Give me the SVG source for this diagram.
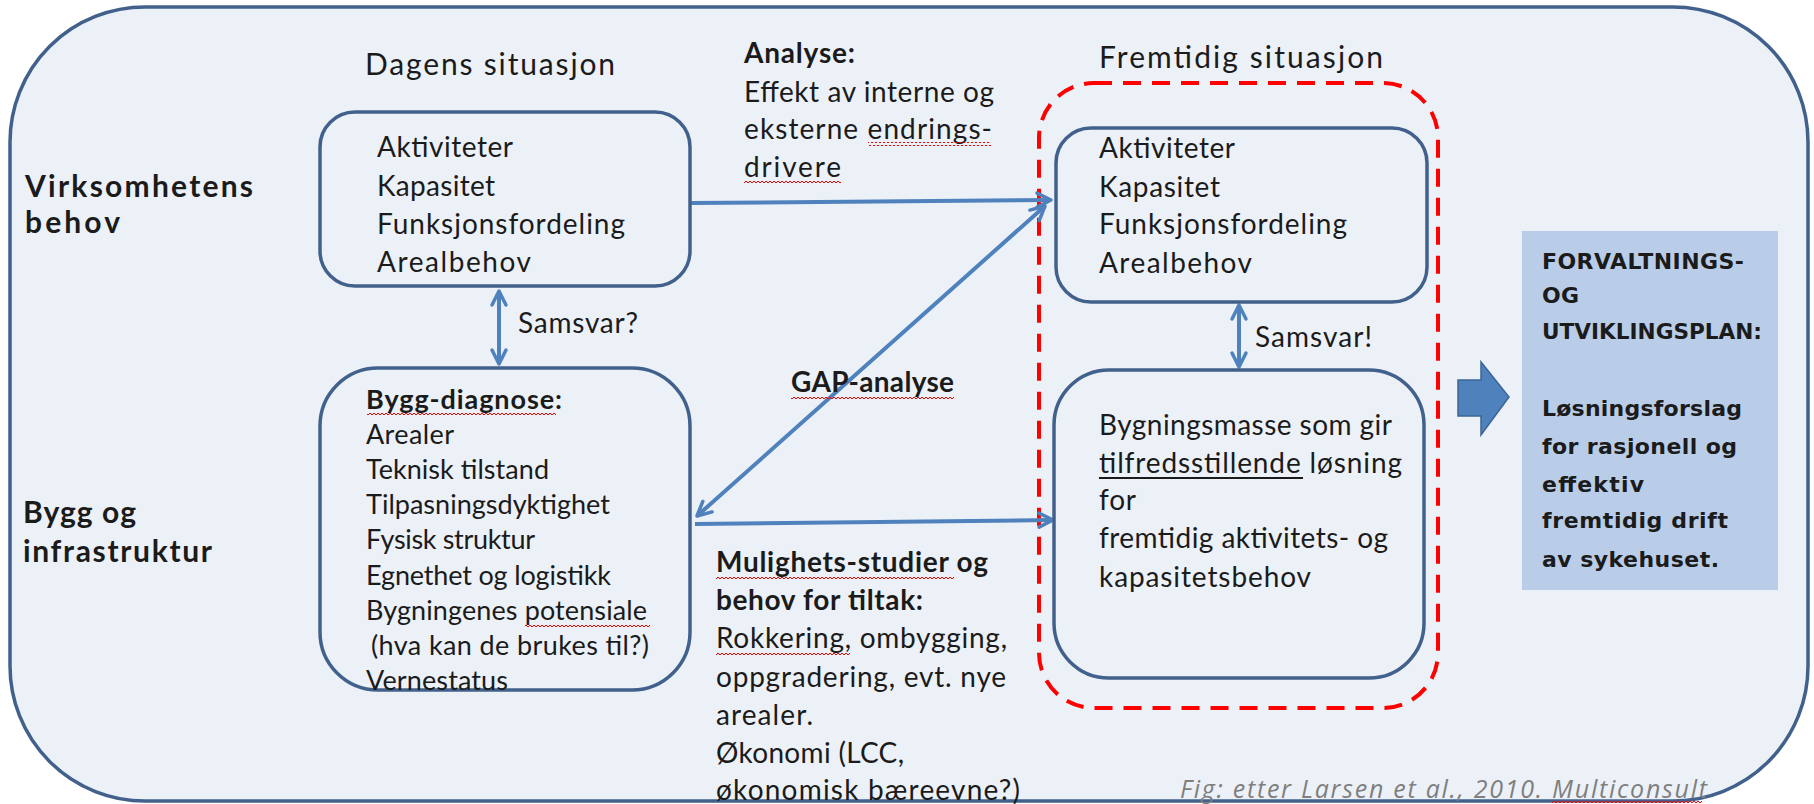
<svg xmlns="http://www.w3.org/2000/svg" width="1814" height="804" viewBox="0 0 1814 804">
  <style>
    .t { font-family: Lato, "Liberation Sans", sans-serif; font-size: 28px; fill: #1b1b1b; }
    .n { font-size: 27px; }
    .b { font-weight: bold; }
    .h { font-size: 30px; }
    .plan { font-family: "DejaVu Sans", sans-serif; font-weight: bold; font-size: 22px; fill: #1b1b1b; }
    .note { font-family: "Open Sans", sans-serif; font-style: italic; font-size: 25px; fill: #7f7f7f; }
    .box { fill: none; stroke: #41618C; stroke-width: 3.5; }
    .conn { stroke: #4F81BD; stroke-width: 4; fill: none; }
    .sq { fill: url(#squiggle); }
  </style>
  <defs>
    <marker id="open" viewBox="0 0 20 20" refX="17" refY="10" markerWidth="20" markerHeight="20" markerUnits="userSpaceOnUse" orient="auto-start-reverse">
      <path d="M3,3 L17,10 L3,17" fill="none" stroke="#4F81BD" stroke-width="3.5" stroke-linecap="round" stroke-linejoin="round"/>
    </marker>
    <pattern id="squiggle" width="4" height="4" patternUnits="userSpaceOnUse">
      <path d="M0,3 L2,1 L4,3" fill="none" stroke="#FF0000" stroke-width="1"/>
    </pattern>
  </defs>

  <!-- frame -->
  <rect id="frame" x="10" y="7" width="1798" height="794" rx="135" fill="#ECF1F8" stroke="#41618C" stroke-width="3.5"/>

  <!-- column and row headings -->
  <g id="headings">
    <text class="t h" x="365" y="75" textLength="250">Dagens situasjon</text>
    <text class="t h" x="1099" y="68" textLength="284">Fremtidig situasjon</text>
    <text class="t h b" x="25" y="197" textLength="228">Virksomhetens</text>
    <text class="t h b" x="25" y="233" textLength="95">behov</text>
    <text class="t h b" x="23" y="523" textLength="113">Bygg og</text>
    <text class="t h b" x="23" y="562" textLength="189">infrastruktur</text>
  </g>

  <!-- future-state boundary -->
  <rect id="future-zone" x="1039" y="83" width="399" height="625" rx="55" fill="none" stroke="#FF0000" stroke-width="4" stroke-dasharray="18 11"/>

  <!-- connectors -->
  <g id="connectors">
    <line class="conn" x1="691" y1="203" x2="1051" y2="200" marker-end="url(#open)"/>
    <line class="conn" x1="695" y1="524" x2="1053" y2="520" marker-end="url(#open)"/>
    <line class="conn" x1="697" y1="516" x2="1045" y2="206" marker-start="url(#open)" marker-end="url(#open)"/>
    <line class="conn" x1="499" y1="291" x2="499" y2="364" marker-start="url(#open)" marker-end="url(#open)"/>
    <line class="conn" x1="1239" y1="305" x2="1239" y2="367" marker-start="url(#open)" marker-end="url(#open)"/>
  </g>

  <g id="today-needs">
    <rect class="box" x="320" y="112" width="370" height="174" rx="35"/>
    <text class="t" x="377" y="157" textLength="136">Aktiviteter</text>
    <text class="t" x="377" y="196" textLength="118">Kapasitet</text>
    <text class="t" x="377" y="234" textLength="248">Funksjonsfordeling</text>
    <text class="t" x="377" y="272" textLength="154">Arealbehov</text>
  </g>

  <g id="today-match">
    <text class="t" x="518" y="333" textLength="120">Samsvar?</text>
  </g>

  <g id="building-diagnosis">
    <rect class="box" x="320" y="368" width="370" height="322" rx="58"/>
    <text class="t n b" x="366" y="409" textLength="196">Bygg-diagnose:</text>
    <rect class="sq" x="367" y="413" width="189" height="4"/>
    <text class="t n" x="366" y="444" textLength="88">Arealer</text>
    <text class="t n" x="366" y="479" textLength="183">Teknisk tilstand</text>
    <text class="t n" x="366" y="514" textLength="244" lengthAdjust="spacingAndGlyphs">Tilpasningsdyktighet</text>
    <text class="t n" x="366" y="549" textLength="169">Fysisk struktur</text>
    <text class="t n" x="366" y="585" textLength="245">Egnethet og logistikk</text>
    <text class="t n" x="366" y="620" textLength="281">Bygningenes potensiale</text>
    <rect class="sq" x="525" y="623" width="125" height="4"/>
    <text class="t n" x="371" y="655" textLength="278">(hva kan de brukes til?)</text>
    <text class="t n" x="366" y="690" textLength="142">Vernestatus</text>
  </g>

  <g id="analysis">
    <text class="t b" x="744" y="63" textLength="111">Analyse:</text>
    <text class="t" x="744" y="102" textLength="250">Effekt av interne og</text>
    <text class="t" x="744" y="139" textLength="248">eksterne endrings-</text>
    <rect class="sq" x="868" y="142" width="123" height="4"/>
    <text class="t" x="744" y="177" textLength="97">drivere</text>
    <rect class="sq" x="744" y="180" width="97" height="4"/>
  </g>

  <g id="gap-analysis">
    <text class="t b" x="791" y="392" textLength="163">GAP-analyse</text>
    <rect class="sq" x="791" y="396" width="163" height="4"/>
  </g>

  <g id="feasibility">
    <text class="t b" x="716" y="572" textLength="272">Mulighets-studier og</text>
    <rect class="sq" x="716" y="575" width="238" height="4"/>
    <text class="t b" x="716" y="610" textLength="207">behov for tiltak:</text>
    <text class="t" x="716" y="648" textLength="291">Rokkering, ombygging,</text>
    <rect class="sq" x="716" y="651" width="134" height="4"/>
    <text class="t" x="716" y="687" textLength="290">oppgradering, evt. nye</text>
    <text class="t" x="716" y="725" textLength="97">arealer.</text>
    <text class="t" x="716" y="763" textLength="188">Økonomi (LCC,</text>
    <text class="t" x="716" y="800" textLength="304">økonomisk bæreevne?)</text>
  </g>

  <g id="future-needs">
    <rect class="box" x="1056" y="128" width="371" height="174" rx="35"/>
    <text class="t" x="1099" y="158" textLength="136">Aktiviteter</text>
    <text class="t" x="1099" y="197" textLength="121">Kapasitet</text>
    <text class="t" x="1099" y="234" textLength="248">Funksjonsfordeling</text>
    <text class="t" x="1099" y="273" textLength="153">Arealbehov</text>
  </g>

  <g id="future-match">
    <text class="t" x="1255" y="347" textLength="117">Samsvar!</text>
  </g>

  <g id="future-buildings">
    <rect class="box" x="1054" y="370" width="370" height="308" rx="55"/>
    <text class="t" x="1099" y="435" textLength="293">Bygningsmasse som gir</text>
    <text class="t" x="1099" y="473" textLength="303">tilfredsstillende løsning</text>
    <line x1="1099" y1="478" x2="1303" y2="478" stroke="#1b1b1b" stroke-width="1.8"/>
    <text class="t" x="1099" y="510" textLength="37">for</text>
    <text class="t" x="1099" y="548" textLength="289">fremtidig aktivitets- og</text>
    <text class="t" x="1099" y="587" textLength="212">kapasitetsbehov</text>
  </g>

  <g id="result-arrow">
    <polygon points="1458,380 1481,380 1481,362 1509,397 1481,435 1481,416 1458,416" fill="#4F81BD" stroke="#3B6593" stroke-width="1.5"/>
  </g>

  <g id="plan">
    <rect x="1522" y="231" width="256" height="359" fill="#B9CDE8"/>
    <text class="plan" x="1542" y="269" textLength="202">FORVALTNINGS-</text>
    <text class="plan" x="1542" y="303" textLength="37">OG</text>
    <text class="plan" x="1542" y="339" textLength="220" lengthAdjust="spacingAndGlyphs">UTVIKLINGSPLAN:</text>
    <text class="plan" x="1542" y="416" textLength="200">Løsningsforslag</text>
    <text class="plan" x="1542" y="454" textLength="195">for rasjonell og</text>
    <text class="plan" x="1542" y="492" textLength="102">effektiv</text>
    <text class="plan" x="1542" y="528" textLength="186">fremtidig drift</text>
    <text class="plan" x="1542" y="567" textLength="177">av sykehuset.</text>
  </g>

  <g id="source">
    <text class="note" x="1180" y="798" textLength="527">Fig: etter Larsen et al., 2010. Multiconsult</text>
    <rect class="sq" x="1552" y="800" width="150" height="4"/>
  </g>
</svg>
